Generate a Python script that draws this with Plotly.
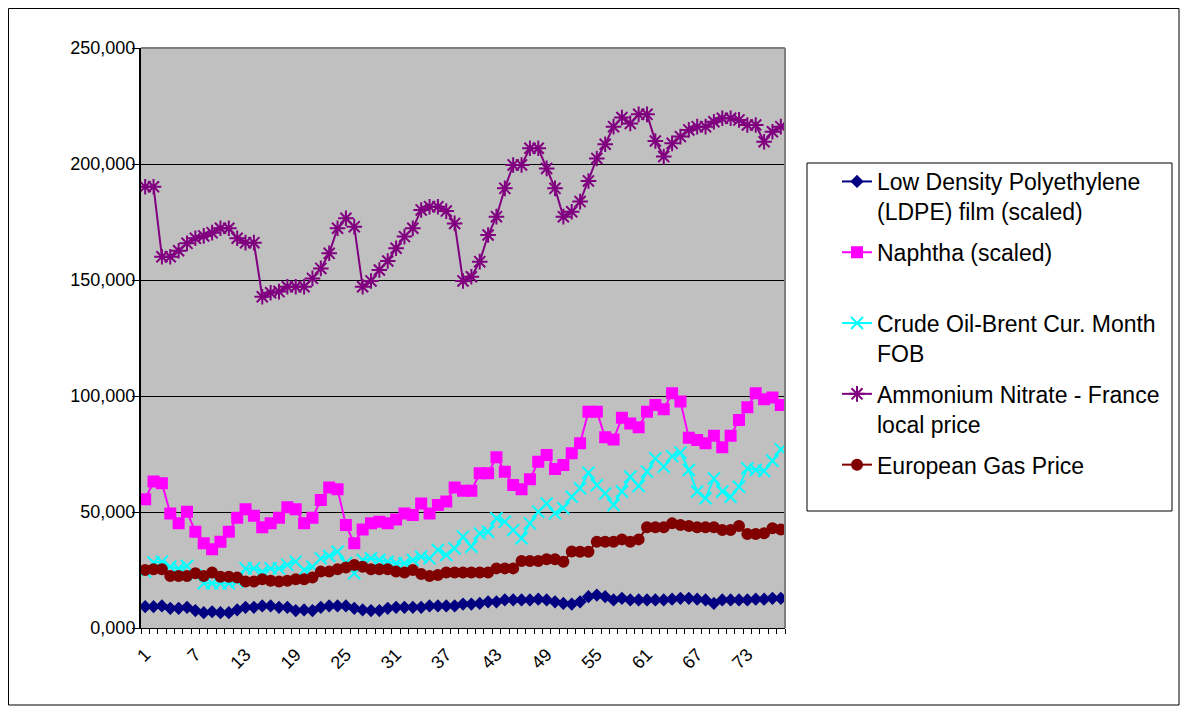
import plotly.graph_objects as go

# month index 1..77 (category axis in the original workbook)
months = list(range(1, 78))
x_ticks = [1, 7, 13, 19, 25, 31, 37, 43, 49, 55, 61, 67, 73]
y_ticks = [0, 50, 100, 150, 200, 250]
y_tick_text = ["0,000", "50,000", "100,000", "150,000", "200,000", "250,000"]

# values in thousands
ldpe = [9.2, 9.2, 9.5, 8.5, 8.5, 8.9, 7.5, 6.6, 7.0, 6.6,
        6.6, 7.8, 8.9, 8.9, 9.5, 9.5, 8.9, 8.9, 7.5, 7.8,
        7.5, 8.9, 9.5, 9.5, 9.5, 8.5, 7.8, 7.5, 7.5, 8.5,
        8.9, 8.9, 8.9, 8.9, 9.5, 9.5, 9.5, 9.5, 10.3, 10.3,
        10.6, 11.3, 11.3, 12.1, 12.1, 12.1, 12.1, 12.4, 12.1, 11.3,
        10.6, 10.3, 11.3, 13.5, 14.2, 13.5, 12.1, 12.8, 12.1, 12.1,
        12.1, 12.1, 12.1, 12.4, 12.8, 12.8, 12.4, 12.1, 10.6, 12.1,
        12.1, 12.1, 12.1, 12.4, 12.4, 12.8, 12.8]
naphtha = [55.5, 63.1, 62.4, 49.4, 45.1, 50.1, 41.5, 36.5, 33.9, 37.2,
           41.5, 47.5, 51.2, 48.4, 43.4, 45.1, 47.5, 52.0, 51.2, 45.1,
           47.5, 55.2, 60.6, 59.8, 44.4, 36.5, 42.5, 45.1, 45.8, 45.1,
           46.8, 49.4, 48.7, 53.7, 49.4, 53.0, 54.5, 60.6, 59.2, 59.2,
           66.7, 66.7, 73.6, 67.4, 61.6, 59.8, 64.1, 71.7, 74.6, 68.5,
           70.3, 75.3, 79.6, 93.2, 93.2, 82.2, 81.3, 90.6, 88.2, 86.5,
           93.2, 96.1, 94.3, 101.2, 97.6, 82.0, 81.0, 79.6, 82.9, 77.9,
           82.9, 89.7, 95.1, 101.2, 98.6, 99.4, 96.1]
crude = [24.3, 28.2, 28.6, 26.4, 25.7, 26.7, 22.8, 19.3, 19.3, 19.3,
         19.3, 20.0, 25.7, 25.7, 24.3, 25.7, 25.7, 27.2, 28.6, 25.0,
         26.4, 30.0, 31.0, 32.9, 28.0, 23.6, 29.3, 30.0, 29.3, 28.6,
         27.9, 27.9, 29.3, 30.7, 30.0, 33.6, 31.5, 34.3, 39.4, 35.0,
         40.8, 41.5, 47.3, 45.8, 42.2, 38.7, 45.1, 50.1, 53.7, 49.4,
         51.6, 56.6, 60.2, 66.9, 61.6, 58.0, 53.0, 58.8, 65.2, 61.2,
         67.4, 73.1, 69.5, 74.1, 75.6, 68.1, 58.8, 55.9, 64.5, 58.8,
         56.6, 60.9, 68.8, 68.1, 67.7, 72.1, 77.0]
ammonium = [190.2, 190.2, 160.0, 160.0, 162.6, 165.8, 168.0, 169.0, 170.4, 172.3,
            172.3, 168.0, 166.1, 166.1, 142.8, 144.5, 145.0, 147.1, 147.1, 147.1,
            150.7, 155.0, 161.5, 172.3, 176.6, 173.0, 147.1, 149.6, 154.3, 158.2,
            163.7, 168.7, 172.3, 180.2, 181.6, 181.6, 179.7, 174.4, 149.6, 151.4,
            157.9, 169.4, 177.3, 189.5, 199.6, 199.6, 206.8, 206.8, 198.1, 189.5,
            177.3, 179.4, 183.8, 192.7, 202.4, 208.5, 216.1, 220.0, 217.5, 221.4,
            221.4, 209.9, 203.2, 208.9, 211.8, 214.7, 216.1, 216.1, 218.2, 219.7,
            219.7, 219.0, 216.8, 216.8, 209.6, 213.9, 216.1]
gas = [25.0, 25.3, 25.3, 22.4, 22.4, 22.4, 23.6, 22.4, 23.9, 22.1,
       22.1, 21.8, 20.0, 20.0, 21.0, 20.4, 20.0, 20.4, 21.0, 21.0,
       21.8, 24.3, 24.3, 25.3, 26.1, 27.2, 26.4, 25.3, 25.3, 25.3,
       24.3, 23.9, 25.0, 23.3, 22.4, 22.8, 23.9, 23.9, 23.9, 23.9,
       23.9, 23.9, 25.7, 25.7, 25.7, 28.9, 28.9, 28.9, 29.6, 29.6,
       28.6, 33.0, 32.9, 32.9, 37.2, 37.2, 37.2, 38.2, 37.2, 38.2,
       43.4, 43.4, 43.4, 45.1, 44.4, 44.0, 43.4, 43.4, 43.4, 42.2,
       42.2, 44.0, 40.5, 40.5, 40.8, 43.0, 42.5]

FONT = "Liberation Sans, Arial, sans-serif"

series = [
    ("Low Density Polyethylene<br>(LDPE) film (scaled)", ldpe, "#000080", "diamond", 8),
    ("Naphtha (scaled)<br> ", naphtha, "#FF00FF", "square", 10),
    ("Crude Oil-Brent Cur. Month<br>FOB", crude, "#00FFFF", "x-thin-open", 12),
    ("Ammonium Nitrate - France<br>local price", ammonium, "#800080", "asterisk-open", 13),
    ("European Gas Price<br> ", gas, "#800000", "circle", 10),
]

fig = go.Figure()
for i, (name, vals, color, symbol, size) in enumerate(series):
    fig.add_trace(go.Scatter(
        x=months, y=vals, name=name, mode="lines+markers",
        legendgroup=f"g{i}",
        line=dict(color=color, width=2),
        marker=dict(symbol=symbol, size=size, color=color,
                    line=dict(color=color, width=2)),
    ))

# page body adds an 8px margin, so work in screen pixels and shift back
OFF = 8
W, H = 1180, 707
L, R, T, B = 141, 785, 48, 628   # plot area in screen pixels
pw, ph = R - L, B - T


def px(x):
    return (x - L) / pw


def py(y):
    return (B - y) / ph


fig.update_layout(
    width=W, height=H,
    margin=dict(l=L - OFF, r=W - (R - OFF), t=T - OFF, b=H - (B - OFF)),
    paper_bgcolor="white",
    plot_bgcolor="#C0C0C0",
    font=dict(family=FONT, color="black", size=17),
    showlegend=True,
    legend=dict(
        x=px(837), y=py(160), xanchor="left", yanchor="top",
        bgcolor="rgba(0,0,0,0)", borderwidth=0,
        font=dict(family=FONT, size=23, color="black"),
        valign="top", tracegroupgap=8,
    ),
    shapes=[
        # outer chart frame
        dict(type="rect", xref="paper", yref="paper",
             x0=px(8.5), x1=px(1179), y0=py(705), y1=py(8.5),
             line=dict(color="black", width=1), layer="below"),
        # legend box
        dict(type="rect", xref="paper", yref="paper",
             x0=px(807), x1=px(1172), y0=py(511), y1=py(163),
             line=dict(color="black", width=1), fillcolor="white", layer="below"),
        # grey plot-area border on top and right
        dict(type="line", xref="paper", yref="paper", x0=0, x1=1, y0=1, y1=1,
             line=dict(color="#808080", width=2), layer="above"),
        dict(type="line", xref="paper", yref="paper", x0=1, x1=1, y0=0, y1=1,
             line=dict(color="#808080", width=2), layer="above"),
    ],
)

fig.update_xaxes(
    range=[0.5, 77.5],
    tickmode="array", tickvals=x_ticks, ticktext=[str(t) for t in x_ticks],
    ticks="", tickangle=-45, ticklabelstandoff=8,
    tickfont=dict(family=FONT, size=18, color="black"),
    showgrid=False, zeroline=False,
    showline=True, linecolor="black", linewidth=1,
    minor=dict(ticks="outside", tick0=0.5, dtick=1, ticklen=5,
               tickcolor="black", tickwidth=1, showgrid=False),
)
fig.update_yaxes(
    range=[0, 250],
    tickmode="array", tickvals=y_ticks, ticktext=y_tick_text,
    ticks="", ticklabelstandoff=0,
    tickfont=dict(family=FONT, size=18, color="black"),
    showgrid=True, gridcolor="black", gridwidth=1,
    zeroline=False,
    showline=True, linecolor="black", linewidth=2,
    minor=dict(ticks="outside", tick0=0, dtick=50, ticklen=7,
               tickcolor="black", tickwidth=1, showgrid=False),
)

fig.write_html("out.html")
